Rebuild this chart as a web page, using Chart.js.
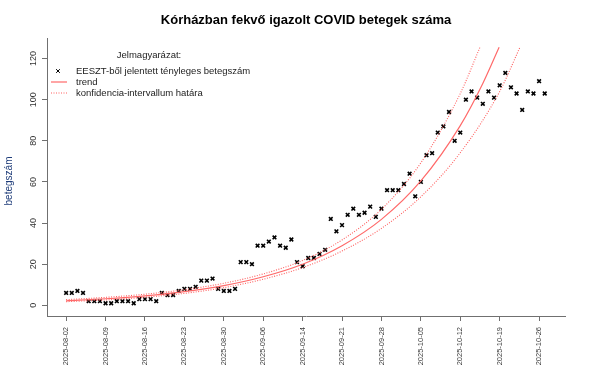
<!DOCTYPE html>
<html>
<head>
<meta charset="utf-8">
<script src="https://cdn.jsdelivr.net/npm/chart.js@4.4.0/dist/chart.umd.min.js"></script>
<style>
  html, body { margin: 0; padding: 0; background: #fff; }
  #wrap { width: 589px; height: 375px; }
</style>
</head>
<body>
<div id="wrap"><canvas id="covidChart" width="589" height="375"></canvas></div>
<script>
// x axis: day index of the reported series, labelled every 7th point
const tickIdx = [0, 7, 14, 21, 28, 35, 42, 49, 56, 63, 70, 77, 84];
const tickLabels = ['2025-08-02', '2025-08-09', '2025-08-16', '2025-08-23', '2025-08-30', '2025-09-06',
    '2025-09-14', '2025-09-21', '2025-09-28', '2025-10-05', '2025-10-12', '2025-10-19', '2025-10-26'];
const yTicks = [0, 20, 40, 60, 80, 100, 120];

// reported patients (EESZT), one value per day index
const counts = [6, 6, 7, 6, 2, 2, 2, 1, 1, 2,
    2, 2, 1, 3, 3, 3, 2, 6, 5, 5,
    7, 8, 8, 9, 12, 12, 13, 8, 7, 7,
    8, 21, 21, 20, 29, 29, 31, 33, 29, 28,
    32, 21, 19, 23, 23, 25, 27, 42, 36, 39,
    44, 47, 44, 45, 48, 43, 47, 56, 56, 56,
    59, 64, 53, 60, 73, 74, 84, 87, 94, 80,
    84, 100, 104, 101, 98, 104, 101, 107, 113, 106,
    103, 95, 104, 103, 109, 103];

// fitted trend and confidence bounds
const trendX = [0, 7, 14, 21, 28, 35, 42, 49, 56, 63, 70, 74, 76.9];
const trendY = [2.2, 3.18, 4.59, 6.64, 9.59, 13.9, 20.0, 29.0, 41.8, 60.5, 87.4, 107.9, 125.5];
const upperX = [0, 7, 14, 21, 28, 35, 42, 49, 56, 63, 70, 73.5];
const upperY = [2.76, 3.86, 5.41, 7.6, 10.71, 15.25, 21.8, 31.8, 46.7, 69.3, 103, 125.5];
const lowerX = [0, 7, 14, 21, 28, 35, 42, 49, 56, 63, 70, 77, 80.6];
const lowerY = [1.75, 2.62, 3.9, 5.8, 8.59, 12.67, 18.35, 26.4, 37.4, 52.8, 74.2, 104, 125.5];

const FONT = '"Liberation Sans", Arial, sans-serif';
const RED = 'rgb(255, 105, 105)';
const RED_DOT = 'rgb(255, 95, 95)';
const AXIS = '#707070';

const pairs = (xs, ys) => xs.map((x, i) => ({ x: x, y: ys[i] }));

// title, legend, rotated y labels and y title drawn R-style on the canvas
const rDecor = {
    id: 'rDecor',
    afterDraw(chart) {
        const ctx = chart.ctx;
        const yScale = chart.scales.y;
        const area = chart.chartArea;
        ctx.save();

        ctx.fillStyle = '#000';
        ctx.font = 'bold 13px ' + FONT;
        ctx.textAlign = 'center';
        ctx.textBaseline = 'middle';
        ctx.fillText('Kórházban fekvő igazolt COVID betegek száma', (area.left + area.right) / 2, 20);

        ctx.fillStyle = '#333';
        ctx.font = '9px ' + FONT;
        yTicks.forEach(v => {
            const py = yScale.getPixelForValue(v);
            ctx.save();
            ctx.translate(34, py);
            ctx.rotate(-Math.PI / 2);
            ctx.fillText(String(v), 0, 0);
            ctx.restore();
        });

        ctx.save();
        ctx.fillStyle = '#1f3d7a';
        ctx.font = '10px ' + FONT;
        ctx.translate(9, 181);
        ctx.rotate(-Math.PI / 2);
        ctx.fillText('betegszám', 0, 0);
        ctx.restore();

        // legend
        ctx.fillStyle = '#222';
        ctx.font = '9.5px ' + FONT;
        ctx.textAlign = 'center';
        ctx.fillText('Jelmagyarázat:', 149, 55);
        ctx.textAlign = 'left';
        ctx.fillText('EESZT-ből jelentett tényleges betegszám', 76, 71);
        ctx.fillText('trend', 76, 82);
        ctx.fillText('konfidencia-intervallum határa', 76, 93);

        ctx.strokeStyle = '#000';
        Chart.helpers.drawPoint(ctx, { pointStyle: 'crossRot', radius: 2.6, borderWidth: 1.6 }, 58, 71);

        ctx.lineWidth = 1.2;
        ctx.strokeStyle = RED;
        ctx.beginPath();
        ctx.moveTo(51, 82);
        ctx.lineTo(67, 82);
        ctx.stroke();

        ctx.strokeStyle = RED_DOT;
        ctx.setLineDash([1, 1.5]);
        ctx.beginPath();
        ctx.moveTo(51, 93);
        ctx.lineTo(67, 93);
        ctx.stroke();
        ctx.restore();
    }
};

const lineStyle = {
    type: 'line',
    showLine: true,
    pointRadius: 0,
    fill: false,
    cubicInterpolationMode: 'monotone'
};

new Chart(document.getElementById('covidChart').getContext('2d'), {
    type: 'scatter',
    data: {
        datasets: [
            Object.assign({}, lineStyle, {
                label: 'trend',
                data: pairs(trendX, trendY),
                borderColor: RED,
                borderWidth: 1.2
            }),
            Object.assign({}, lineStyle, {
                label: 'konfidencia felső',
                data: pairs(upperX, upperY),
                borderColor: RED_DOT,
                borderWidth: 1.1,
                borderDash: [1, 1.5]
            }),
            Object.assign({}, lineStyle, {
                label: 'konfidencia alsó',
                data: pairs(lowerX, lowerY),
                borderColor: RED_DOT,
                borderWidth: 1.1,
                borderDash: [1, 1.5]
            }),
            {
                label: 'EESZT-ből jelentett tényleges betegszám',
                data: counts.map((v, i) => ({ x: i, y: v })),
                pointStyle: 'crossRot',
                pointRadius: 2.6,
                pointBorderWidth: 1.6,
                borderColor: '#000',
                backgroundColor: '#000'
            }
        ]
    },
    options: {
        responsive: false,
        animation: false,
        devicePixelRatio: 1,
        layout: { padding: { left: 0, right: 24, top: 38, bottom: 0 } },
        plugins: {
            legend: { display: false },
            tooltip: { enabled: false },
            title: { display: false }
        },
        scales: {
            x: {
                type: 'linear',
                min: -3.4,
                max: 88.6,
                afterBuildTicks: scale => {
                    scale.ticks = tickIdx.map(v => ({ value: v }));
                },
                afterFit: scale => { scale.height = 59; },
                ticks: {
                    autoSkip: false,
                    minRotation: 90,
                    maxRotation: 90,
                    padding: 6,
                    color: '#3a3a3a',
                    font: { family: FONT, size: 7.5 },
                    callback: v => tickLabels[tickIdx.indexOf(v)]
                },
                grid: { drawOnChartArea: false, drawTicks: true, tickLength: 5, color: AXIS },
                border: { display: true, color: AXIS, width: 1 }
            },
            y: {
                type: 'linear',
                min: -5.2,
                max: 130,
                afterBuildTicks: scale => {
                    scale.ticks = yTicks.map(v => ({ value: v }));
                },
                afterFit: scale => { scale.width = 47; },
                ticks: { display: false },
                grid: { drawOnChartArea: false, drawTicks: true, tickLength: 5, color: AXIS },
                border: { display: true, color: AXIS, width: 1 }
            }
        }
    },
    plugins: [rDecor]
});
</script>
</body>
</html>
